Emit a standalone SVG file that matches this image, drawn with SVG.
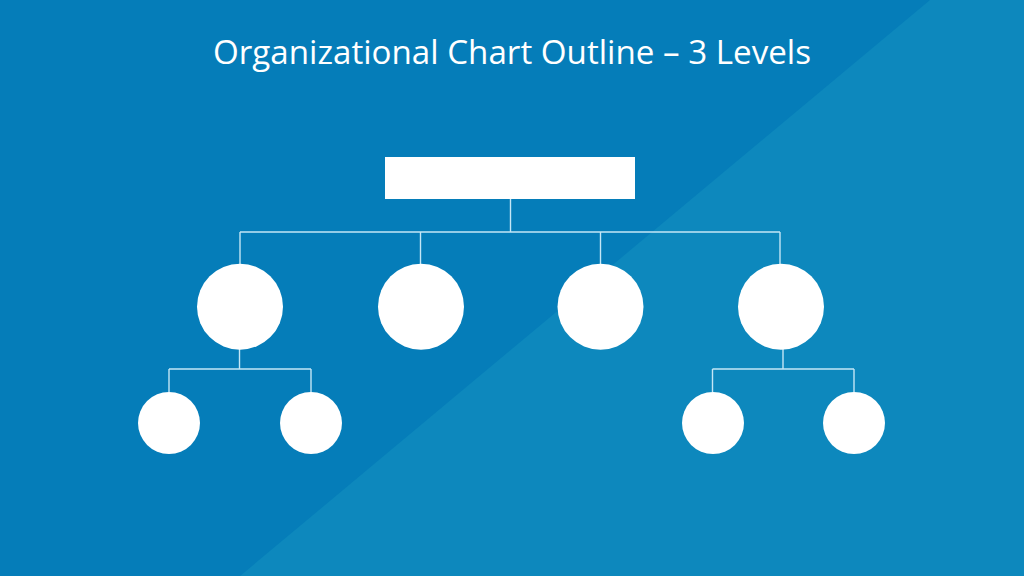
<svg xmlns="http://www.w3.org/2000/svg" width="1024" height="576" viewBox="0 0 1024 576">
  <style>
    .node { fill: #ffffff; }
    .conn { stroke: #c4e6f6; stroke-width: 1.4; fill: none; }
    .title { font-family: "Open Sans", "Liberation Sans", sans-serif; font-size: 32px; fill: #ffffff; }
  </style>
  <rect x="0" y="0" width="1024" height="576" fill="#057db9"/>
  <polygon points="930,0 1024,0 1024,576 240,576" fill="#0d88bd"/>
  <text class="title" x="512" y="64" text-anchor="middle" textLength="598" lengthAdjust="spacingAndGlyphs">Organizational Chart Outline – 3 Levels</text>
  <g id="connectors">
    <path class="conn" d="M510.5,199 V232 M240,232 H780 M240,232 V264 M420.5,232 V264 M600.5,232 V264 M780,232 V264"/>
    <path class="conn" d="M239.5,349 V369 M169,369 H311 M169,369 V392 M311,369 V392"/>
    <path class="conn" d="M783,349 V369 M712.5,369 H854 M712.5,369 V392 M854,369 V392"/>
  </g>
  <g id="root"><rect class="node" x="385" y="157" width="250" height="42"/></g>
  <g id="l2-1"><circle class="node" cx="240" cy="306.7" r="43"/></g>
  <g id="l2-2"><circle class="node" cx="421" cy="306.7" r="43"/></g>
  <g id="l2-3"><circle class="node" cx="600.5" cy="306.7" r="43"/></g>
  <g id="l2-4"><circle class="node" cx="781" cy="306.7" r="43"/></g>
  <g id="l3-1"><circle class="node" cx="169" cy="423" r="31"/></g>
  <g id="l3-2"><circle class="node" cx="311" cy="423" r="31"/></g>
  <g id="l3-3"><circle class="node" cx="713" cy="423" r="31"/></g>
  <g id="l3-4"><circle class="node" cx="854" cy="423" r="31"/></g>
</svg>
